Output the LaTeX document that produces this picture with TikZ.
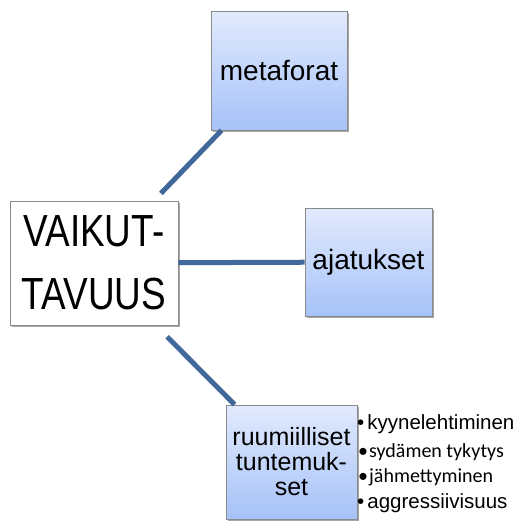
\documentclass[tikz,border=0pt]{standalone}
\usepackage{fontspec}
\setmainfont{Liberation Sans}
\newfontfamily\narrowfont[FakeStretch=0.82]{Liberation Sans}
\newfontfamily\calfont{Carlito}
\usetikzlibrary{shadows}
\definecolor{linkblue}{HTML}{41689A}
\definecolor{boxtop}{HTML}{E2EAFD}
\definecolor{boxbot}{HTML}{A6C2F8}
\definecolor{boxedge}{HTML}{8A8A8A}
\tikzset{
  bluebox/.style={draw=boxedge, line width=0.8pt, top color=boxtop, bottom color=boxbot,
    drop shadow={shadow xshift=2pt, shadow yshift=-2pt, opacity=0.35, fill=black},
    inner sep=0pt, align=center, font=\fontsize{28}{30}\selectfont},
  whitebox/.style={draw=boxedge, line width=0.8pt, fill=white,
    drop shadow={shadow xshift=2pt, shadow yshift=-2pt, opacity=0.35, fill=black},
    inner sep=0pt, align=center},
  link/.style={draw=linkblue, line width=5pt},
  item/.style={anchor=base west, inner sep=0pt},
}
\begin{document}
\begin{tikzpicture}[x=1pt, y=-1pt]
\useasboundingbox (0,0) rectangle (522,525);
\node[whitebox, minimum width=168pt, minimum height=124pt,
  font=\narrowfont\fontsize{45}{63}\selectfont] (vaik) at (94,263) {VAIKUT-\\TAVUUS};
\node[bluebox, minimum width=136pt, minimum height=119pt] (meta) at (279,70.5) {metaforat};
\node[bluebox, minimum width=127pt, minimum height=108pt] (ajat) at (368.5,262) {ajatukset};
\node[bluebox, minimum width=131pt, minimum height=114pt,
  font=\fontsize{25}{25}\selectfont] (ruum) at (291.5,462) {ruumiilliset\\tuntemuk-\\set};
\draw[link, shorten <=10pt] (vaik) -- (meta);
\draw[link] (vaik) -- (ajat);
\draw[link, shorten <=16pt] (vaik) -- (ruum);
\node[item, font=\fontsize{20.5}{22}\selectfont] (i1) at (357,429) {•\hspace{3pt}kyynelehtiminen};
\node[item, font=\calfont\fontsize{20}{22}\selectfont] (i2) at (358,457) {•\hspace{1pt}sydämen tykytys};
\node[item, font=\calfont\fontsize{20}{22}\selectfont] (i3) at (358,482) {•\hspace{1pt}jähmettyminen};
\node[item, font=\fontsize{20.5}{22}\selectfont] (i4) at (357,508) {•\hspace{3pt}aggressiivisuus};
\end{tikzpicture}
\end{document}
